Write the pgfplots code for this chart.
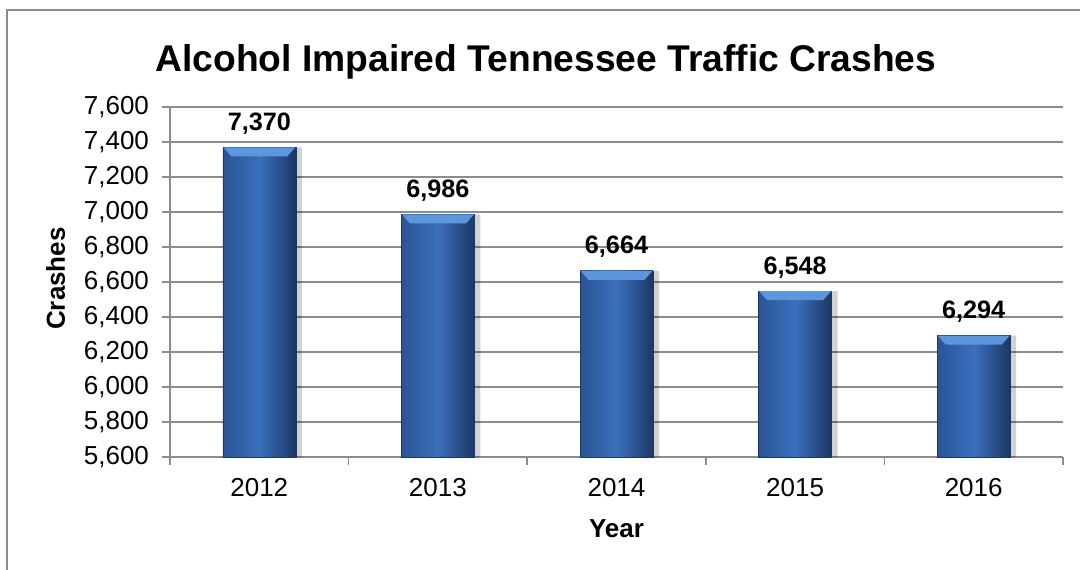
\documentclass[border=0pt]{standalone}
\usepackage{fontspec}
\setmainfont{Liberation Sans}
\usepackage{pgfplots}
\pgfplotsset{compat=1.18}

\definecolor{barmid}{HTML}{3B70BD}
\definecolor{barleft}{HTML}{2A5494}
\definecolor{barright}{HTML}{1C3764}
\definecolor{bevel}{HTML}{5C97DE}
\definecolor{gridgray}{HTML}{8C8C8C}

% light bevel on top of each bar
\pgfdeclareplotmark{bevel}{%
  \pgfpathmoveto{\pgfqpoint{-18pt}{0pt}}%
  \pgfpathlineto{\pgfqpoint{18pt}{0pt}}%
  \pgfpathlineto{\pgfqpoint{14pt}{-4.5pt}}%
  \pgfpathlineto{\pgfqpoint{-14pt}{-4.5pt}}%
  \pgfpathclose
  \pgfusepathqfill
}

\pgfplotsset{
  shadowbar/.style={ybar, bar width=36.5pt, bar shift=3pt, fill=black,
    fill opacity=0.18, draw=none, forget plot},
  bluebar/.style={ybar, bar width=36.5pt, bar shift=0pt,
    left color=barleft, right color=barright, middle color=barmid,
    draw=barright, line width=0.3pt,
    mark=bevel, mark options={fill=bevel, draw=none},
    nodes near coords,
    every node near coord/.append style={font=\bfseries\fontsize{12.6}{14}\selectfont,
      text=black, yshift=3pt}},
}

\begin{document}
\begin{tikzpicture}
\useasboundingbox (0,0) rectangle (540pt,284.5pt);
\draw[gridgray, line width=0.75pt] (3.5pt,-5pt) -- (3.5pt,279.5pt) -- (545pt,279.5pt);
\node[font=\bfseries\fontsize{18.6}{22}\selectfont, anchor=base] at (273pt,248.5pt)
  {Alcohol Impaired Tennessee Traffic Crashes};
\begin{axis}[
    at={(85pt,56pt)}, anchor=south west,
    scale only axis, width=446.5pt, height=175pt,
    xmin=-0.5, xmax=4.5, ymin=5600, ymax=7600,
    ytick={5600,5800,6000,6200,6400,6600,6800,7000,7200,7400,7600},
    xtick={0,1,2,3,4},
    xticklabels={2012,2013,2014,2015,2016},
    minor xtick={-0.5,0.5,1.5,2.5,3.5,4.5},
    axis x line*=bottom, axis y line*=left,
    axis line style={gridgray, line width=0.75pt},
    ymajorgrids, major grid style={gridgray, line width=0.75pt},
    tick align=outside, major tick length=4pt, minor tick length=4pt,
    tick style={gridgray, line width=0.75pt},
    major x tick style={draw=none},
    /pgf/number format/.cd, 1000 sep={,}, assume math mode=true,
    /pgfplots/.cd,
    ticklabel style={font=\fontsize{13}{15}\selectfont},
    yticklabel style={xshift=-3pt},
    xticklabel style={yshift=-3.2pt},
    xlabel={Year}, ylabel={Crashes},
    xlabel style={font=\bfseries\fontsize{13}{15}\selectfont,
      at={(axis description cs:0.5,-0.205)}, anchor=center},
    ylabel style={font=\bfseries\fontsize{13}{15}\selectfont,
      at={(axis description cs:-0.128,0.51)}, anchor=center},
  ]
  % soft shadow to the right of each bar
  \addplot[shadowbar] coordinates {
    (0,7370) (1,6986) (2,6664) (3,6548) (4,6294)
  };
  % one plot per bar so that each bar gets its own shading
  \addplot[bluebar] coordinates {(0,7370)};
  \addplot[bluebar] coordinates {(1,6986)};
  \addplot[bluebar] coordinates {(2,6664)};
  \addplot[bluebar] coordinates {(3,6548)};
  \addplot[bluebar] coordinates {(4,6294)};
\end{axis}
\end{tikzpicture}
\end{document}
